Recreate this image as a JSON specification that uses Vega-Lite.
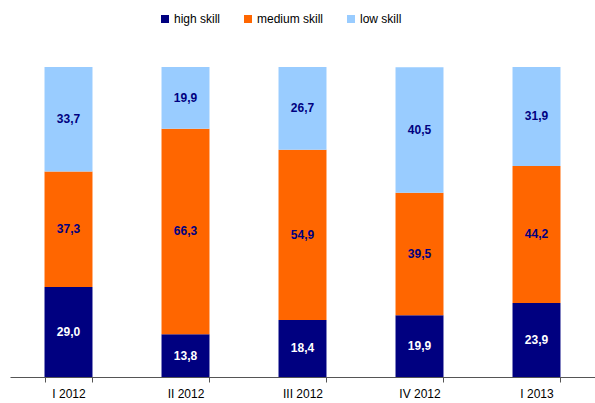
{
  "$schema": "https://vega.github.io/schema/vega-lite/v6.json",
  "width": 585,
  "height": 310,
  "autosize": {"type": "none"},
  "padding": {"left": 10, "top": 67, "right": 0, "bottom": 26},
  "background": "white",
  "config": {
    "view": {"stroke": null},
    "font": "Liberation Sans",
    "locale": {"number": {"decimal": ",", "thousands": ".", "grouping": [3], "currency": ["", "€"]}}
  },
  "data": {
    "values": [
      {"quarter": "I 2012", "skill": "high skill", "order": 1, "value": 29.0},
      {"quarter": "I 2012", "skill": "medium skill", "order": 2, "value": 37.3},
      {"quarter": "I 2012", "skill": "low skill", "order": 3, "value": 33.7},
      {"quarter": "II 2012", "skill": "high skill", "order": 1, "value": 13.8},
      {"quarter": "II 2012", "skill": "medium skill", "order": 2, "value": 66.3},
      {"quarter": "II 2012", "skill": "low skill", "order": 3, "value": 19.9},
      {"quarter": "III 2012", "skill": "high skill", "order": 1, "value": 18.4},
      {"quarter": "III 2012", "skill": "medium skill", "order": 2, "value": 54.9},
      {"quarter": "III 2012", "skill": "low skill", "order": 3, "value": 26.7},
      {"quarter": "IV 2012", "skill": "high skill", "order": 1, "value": 19.9},
      {"quarter": "IV 2012", "skill": "medium skill", "order": 2, "value": 39.5},
      {"quarter": "IV 2012", "skill": "low skill", "order": 3, "value": 40.5},
      {"quarter": "I 2013", "skill": "high skill", "order": 1, "value": 23.9},
      {"quarter": "I 2013", "skill": "medium skill", "order": 2, "value": 44.2},
      {"quarter": "I 2013", "skill": "low skill", "order": 3, "value": 31.9}
    ]
  },
  "transform": [
    {"stack": "value", "groupby": ["quarter"], "sort": [{"field": "order", "order": "ascending"}], "as": ["v0", "v1"]},
    {"calculate": "(datum.v0 + datum.v1) / 2", "as": "mid"}
  ],
  "encoding": {
    "x": {
      "field": "quarter",
      "type": "nominal",
      "sort": ["I 2012", "II 2012", "III 2012", "IV 2012", "I 2013"],
      "scale": {"paddingInner": 0.59, "paddingOuter": 0.295},
      "axis": {
        "title": null,
        "labelAngle": 0,
        "labelFontSize": 12,
        "labelColor": "#000000",
        "labelPadding": 6,
        "tickBand": "extent",
        "tickSize": 5,
        "tickColor": "#555555",
        "domainColor": "#555555",
        "grid": false
      }
    }
  },
  "layer": [
    {
      "mark": {"type": "bar"},
      "encoding": {
        "y": {"field": "v0", "type": "quantitative", "scale": {"domain": [0, 100]}, "axis": null},
        "y2": {"field": "v1"},
        "color": {
          "field": "skill",
          "type": "nominal",
          "scale": {"domain": ["high skill", "medium skill", "low skill"], "range": ["#000080", "#FF6600", "#99CCFF"]},
          "legend": {
            "title": null,
            "orient": "none",
            "direction": "horizontal",
            "legendX": 149,
            "legendY": -54,
            "symbolType": "square",
            "symbolSize": 64,
            "symbolStrokeWidth": 0,
            "labelFontSize": 12,
            "labelColor": "#000000",
            "labelOffset": 3,
            "columnPadding": 21
          }
        }
      }
    },
    {
      "mark": {"type": "text", "fontSize": 12, "fontWeight": "bold"},
      "encoding": {
        "y": {"field": "mid", "type": "quantitative"},
        "text": {"field": "value", "type": "quantitative", "format": ".1f"},
        "color": {"condition": {"test": "datum.skill === 'high skill'", "value": "#FFFFFF"}, "value": "#000080"}
      }
    }
  ]
}
